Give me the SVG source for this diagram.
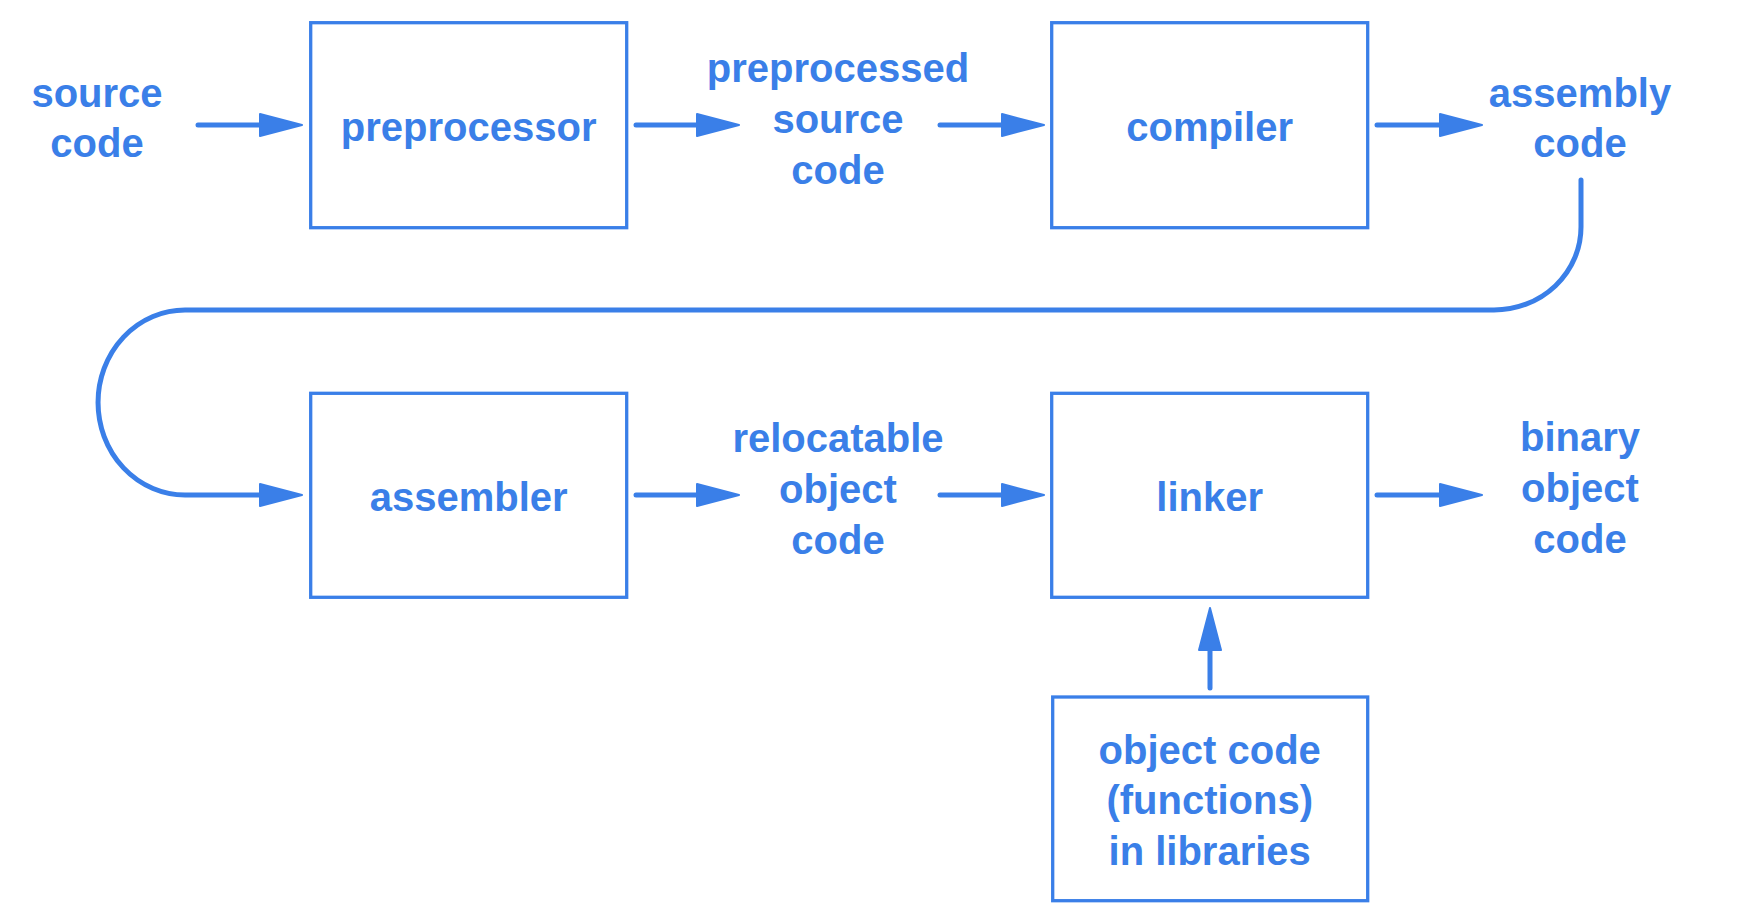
<svg xmlns="http://www.w3.org/2000/svg" width="1752" height="916" viewBox="0 0 1752 916">
<style>
.box{fill:#ffffff;stroke:#3a7fe8;stroke-width:3.3}
.t{font-family:"Liberation Sans",Arial,sans-serif;font-weight:bold;font-size:40px;fill:#3a7fe8;text-anchor:middle}
.c{fill:none;stroke:#3a7fe8;stroke-width:5;stroke-linecap:round;stroke-linejoin:round}
</style>
<defs>
<marker id="ah" viewBox="0 0 44 24" refX="4" refY="12" markerWidth="44" markerHeight="24" markerUnits="userSpaceOnUse" orient="auto">
<path d="M1,1 L43,12 L1,23 Z" fill="#3a7fe8" stroke="#3a7fe8" stroke-width="2" stroke-linejoin="round"/>
</marker>
</defs>
<rect width="1752" height="916" fill="#ffffff"/>
<g id="source-code"><text class="t" x="97" y="107">source</text><text class="t" x="97" y="157">code</text></g>
<g id="preprocessor"><rect class="box" x="310.7" y="22.7" width="316" height="205"/><text class="t" x="468.7" y="141">preprocessor</text></g>
<g id="preprocessed-source-code"><text class="t" x="838" y="82">preprocessed</text><text class="t" x="838" y="133">source</text><text class="t" x="838" y="184">code</text></g>
<g id="compiler"><rect class="box" x="1051.7" y="22.7" width="316" height="205"/><text class="t" x="1209.7" y="141">compiler</text></g>
<g id="assembly-code"><text class="t" x="1580" y="107">assembly</text><text class="t" x="1580" y="157">code</text></g>
<g id="assembler"><rect class="box" x="310.7" y="393.3" width="316" height="204"/><text class="t" x="468.7" y="511">assembler</text></g>
<g id="relocatable-object-code"><text class="t" x="838" y="452">relocatable</text><text class="t" x="838" y="503">object</text><text class="t" x="838" y="554">code</text></g>
<g id="linker"><rect class="box" x="1051.7" y="393.3" width="316" height="204"/><text class="t" x="1209.7" y="511">linker</text></g>
<g id="binary-object-code"><text class="t" x="1580" y="451">binary</text><text class="t" x="1580" y="502">object</text><text class="t" x="1580" y="553">code</text></g>
<g id="libraries"><rect class="box" x="1052.7" y="697" width="315" height="203.7"/><text class="t" x="1209.7" y="764">object code</text><text class="t" x="1209.7" y="814">(functions)</text><text class="t" x="1209.7" y="865">in libraries</text></g>
<g id="connectors">
<path class="c" d="M198,125 H263" marker-end="url(#ah)"/>
<path class="c" d="M636,125 H700" marker-end="url(#ah)"/>
<path class="c" d="M940,125 H1005" marker-end="url(#ah)"/>
<path class="c" d="M1377,125 H1443" marker-end="url(#ah)"/>
<path class="c" d="M1581,180 V227 A87,83 0 0 1 1494,310 H185 A87,92.5 0 0 0 185,495 H263" marker-end="url(#ah)"/>
<path class="c" d="M636,495 H700" marker-end="url(#ah)"/>
<path class="c" d="M940,495 H1005" marker-end="url(#ah)"/>
<path class="c" d="M1377,495 H1443" marker-end="url(#ah)"/>
<path class="c" d="M1210,688 V647" marker-end="url(#ah)"/>
</g>
</svg>
